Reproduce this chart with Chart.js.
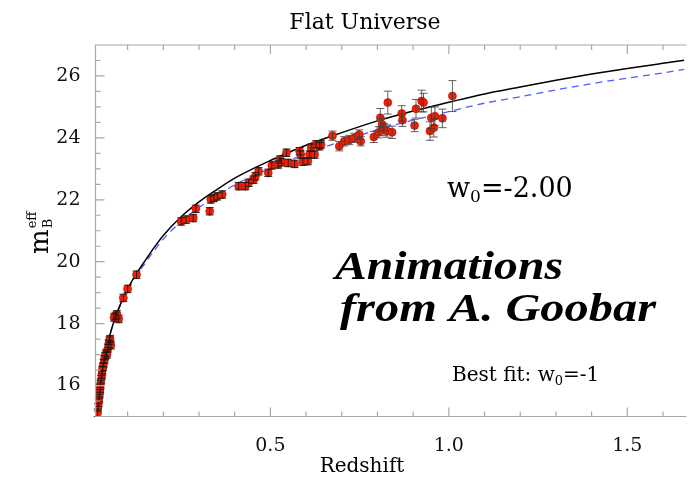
<!DOCTYPE html>
<html>
<head>
<meta charset="utf-8">
<script src="https://cdn.jsdelivr.net/npm/chart.js@4.4.1/dist/chart.umd.min.js"></script>
<style>
  html, body { margin: 0; padding: 0; background: #fff; }
  #wrap { width: 689px; height: 478px; }
</style>
</head>
<body>
<div id="wrap"><canvas id="chart" width="689" height="478"></canvas></div>
<script>
// supernovae
const sneZ = [
  0.016, 0.017, 0.019, 0.020, 0.022, 0.023, 0.024, 0.026, 0.028, 0.029,
  0.031, 0.033, 0.035, 0.037, 0.040, 0.042, 0.045, 0.047, 0.049, 0.051,
  0.053, 0.062, 0.066, 0.070, 0.075, 0.088, 0.100, 0.125,
  0.250, 0.264, 0.284, 0.291, 0.330, 0.333, 0.342, 0.351, 0.365, 0.411,
  0.430, 0.439, 0.453, 0.458, 0.467, 0.494, 0.504, 0.522, 0.527, 0.531,
  0.545, 0.550, 0.568, 0.582, 0.585, 0.591, 0.605, 0.610, 0.614, 0.624,
  0.628, 0.638, 0.642,
  0.674, 0.693, 0.707, 0.721, 0.735, 0.749, 0.753, 0.790, 0.804, 0.808,
  0.813, 0.818, 0.827, 0.829, 0.841, 0.868, 0.870, 0.904, 0.908, 0.924,
  0.929, 0.947, 0.951, 0.958, 0.961, 0.982, 1.010
];
const sneMag = [
  15.12, 15.30, 15.45, 15.60, 15.75, 15.90, 16.05, 16.20, 16.35, 16.50,
  16.60, 16.72, 16.85, 16.95, 17.05, 17.00, 17.20, 17.35, 17.45, 17.50,
  17.30, 18.20, 18.25, 18.30, 18.15, 18.83, 19.12, 19.58,
  21.30, 21.36, 21.41, 21.71, 21.63, 22.01, 22.06, 22.11, 22.17, 22.44,
  22.44, 22.55, 22.65, 22.76, 22.92, 22.87, 23.11, 23.14, 23.30, 23.21,
  23.52, 23.19, 23.16, 23.57, 23.46, 23.23, 23.25, 23.46, 23.68, 23.46,
  23.79, 23.73, 23.79,
  24.07, 23.73, 23.89, 23.93, 24.00, 24.11, 23.89, 24.03, 24.18, 24.65,
  24.43, 24.27, 24.22, 25.14, 24.18, 24.79, 24.57, 24.40, 24.94, 25.19,
  25.14, 24.22, 24.65, 24.33, 24.70, 24.63, 25.35
];
const sneErr = [
  0.12, 0.12, 0.12, 0.12, 0.12, 0.12, 0.12, 0.12, 0.12, 0.12,
  0.12, 0.12, 0.12, 0.12, 0.12, 0.12, 0.12, 0.12, 0.12, 0.12,
  0.12, 0.12, 0.12, 0.12, 0.12, 0.12, 0.12, 0.12,
  0.12, 0.12, 0.12, 0.12, 0.12, 0.12, 0.12, 0.12, 0.12, 0.12,
  0.12, 0.12, 0.12, 0.12, 0.12, 0.12, 0.12, 0.12, 0.12, 0.12,
  0.12, 0.12, 0.12, 0.12, 0.12, 0.12, 0.12, 0.12, 0.12, 0.12,
  0.12, 0.12, 0.12,
  0.15, 0.15, 0.15, 0.15, 0.15, 0.15, 0.15, 0.18, 0.18, 0.30,
  0.20, 0.20, 0.20, 0.37, 0.20, 0.25, 0.20, 0.20, 0.30, 0.35,
  0.30, 0.30, 0.35, 0.30, 0.30, 0.30, 0.50
];

// model curves
const modelZ = [
  0.012, 0.016, 0.020, 0.025, 0.030, 0.040, 0.050, 0.060, 0.070, 0.080,
  0.100, 0.125, 0.150, 0.175, 0.200, 0.250, 0.300, 0.350, 0.400, 0.500, 0.600,
  0.700, 0.800, 0.900, 1.000, 1.100, 1.200, 1.300, 1.400, 1.500, 1.600, 1.660
];
const bestFitMag = [
  14.60, 15.15, 15.65, 16.13, 16.52, 17.14, 17.62, 18.01, 18.34, 18.63,
  19.12, 19.62, 20.05, 20.47, 20.85, 21.45, 21.93, 22.33, 22.70, 23.27, 23.76,
  24.17, 24.55, 24.87, 25.15, 25.42, 25.64, 25.86, 26.06, 26.24, 26.41, 26.51
];
const w2Mag = [
  14.60, 15.15, 15.65, 16.13, 16.51, 17.13, 17.61, 17.99, 18.31, 18.60,
  19.08, 19.56, 19.97, 20.37, 20.73, 21.30, 21.75, 22.13, 22.48, 23.02, 23.49,
  23.89, 24.26, 24.57, 24.85, 25.12, 25.33, 25.55, 25.75, 25.93, 26.10, 26.21
];

// axes
const xTickValues = [0.1, 0.2, 0.3, 0.4, 0.5, 0.6, 0.7, 0.8, 0.9, 1.0, 1.1, 1.2, 1.3, 1.4, 1.5, 1.6];
const xTickLabels = { '0.5': '0.5', '1.0': '1.0', '1.5': '1.5' };
const yTickValues = [15.5, 16, 16.5, 17, 17.5, 18, 18.5, 19, 19.5, 20, 20.5, 21, 21.5, 22, 22.5,
  23, 23.5, 24, 24.5, 25, 25.5, 26, 26.5];
const yTickLabels = { '16': '16', '18': '18', '20': '20', '22': '22', '24': '24', '26': '26' };

const serif = '"DejaVu Serif", serif';
const bannerFont = 'italic bold 40px "Liberation Serif", "Times New Roman", Times, serif';
const tickFont = { family: '"DejaVu Serif", serif', size: 19 };

function drawParts(ctx, parts, x, y) {
  let cx = x;
  parts.forEach(p => {
    ctx.font = p.size + 'px ' + serif;
    ctx.fillText(p.t, cx, y + (p.dy || 0));
    cx += ctx.measureText(p.t).width;
  });
}

function drawStretched(ctx, text, x, y, width) {
  ctx.font = bannerFont;
  const w = ctx.measureText(text).width;
  ctx.save();
  ctx.translate(x, y);
  ctx.scale(width / w, 1);
  ctx.fillText(text, 0, 0);
  ctx.restore();
}

const frame = {
  id: 'frame',
  afterDraw(chart) {
    const ctx = chart.ctx;
    const a = chart.chartArea;
    const xs = chart.scales.x, ys = chart.scales.y;
    ctx.save();
    ctx.strokeStyle = '#a8a8a8';
    ctx.lineWidth = 1.2;
    ctx.beginPath();
    ctx.moveTo(a.right + 2, a.top); ctx.lineTo(a.left, a.top);
    ctx.lineTo(a.left, a.bottom); ctx.lineTo(a.right + 2, a.bottom);
    ctx.stroke();
    ctx.beginPath();
    xTickValues.forEach(v => {
      const px = xs.getPixelForValue(v);
      const len = xTickLabels[v.toFixed(1)] ? 9 : 5;
      ctx.moveTo(px, a.bottom); ctx.lineTo(px, a.bottom - len);
      ctx.moveTo(px, a.top); ctx.lineTo(px, a.top + len);
    });
    yTickValues.forEach(v => {
      const py = ys.getPixelForValue(v);
      const len = yTickLabels[String(v)] ? 9 : 5;
      ctx.moveTo(a.left, py); ctx.lineTo(a.left + len, py);
    });
    ctx.stroke();
    ctx.restore();
  }
};

const errorBars = {
  id: 'errorBars',
  afterDatasetsDraw(chart) {
    const ctx = chart.ctx;
    const xs = chart.scales.x, ys = chart.scales.y;
    ctx.save();
    ctx.lineWidth = 1;
    sneZ.forEach((z, i) => {
      const px = xs.getPixelForValue(z);
      const lo = ys.getPixelForValue(sneMag[i] - sneErr[i]);
      const hi = ys.getPixelForValue(sneMag[i] + sneErr[i]);
      ctx.strokeStyle = sneErr[i] > 0.14 ? 'rgba(60,60,60,0.8)' : 'rgba(20,20,20,0.85)';
      ctx.beginPath();
      ctx.moveTo(px, lo); ctx.lineTo(px, hi);
      ctx.moveTo(px - 4, lo); ctx.lineTo(px + 4, lo);
      ctx.moveTo(px - 4, hi); ctx.lineTo(px + 4, hi);
      ctx.stroke();
    });
    ctx.restore();
  }
};

const labels = {
  id: 'labels',
  afterDraw(chart) {
    const ctx = chart.ctx;
    ctx.save();
    ctx.fillStyle = '#000';
    ctx.textBaseline = 'alphabetic';

    ctx.textAlign = 'center';
    ctx.font = '22px ' + serif;
    ctx.fillText('Flat Universe', 365, 29);
    ctx.font = '20px ' + serif;
    ctx.fillText('Redshift', 362, 472);

    ctx.textAlign = 'left';
    drawParts(ctx, [{ t: 'w', size: 27 }, { t: '0', size: 17, dy: 5 }, { t: '=-2.00', size: 27 }], 447, 197);
    drawParts(ctx, [{ t: 'Best fit: w', size: 20 }, { t: '0', size: 13, dy: 4 }, { t: '=-1', size: 20 }], 452, 381);

    drawStretched(ctx, 'Animations', 335, 279, 228);
    drawStretched(ctx, 'from A. Goobar', 340, 321, 316);

    // rotated y title: m_B^eff
    ctx.translate(48, 254);
    ctx.rotate(-Math.PI / 2);
    ctx.font = '26px ' + serif;
    ctx.fillText('m', 0, 0);
    const mw = ctx.measureText('m').width;
    ctx.font = '13px ' + serif;
    ctx.fillText('B', mw + 1, 4);
    ctx.fillText('eff', mw + 1, -12);
    ctx.restore();
  }
};

new Chart(document.getElementById('chart'), {
  type: 'scatter',
  data: {
    datasets: [
      {
        label: 'SNe Ia',
        data: sneZ.map((z, i) => ({ x: z, y: sneMag[i] })),
        pointRadius: 4,
        pointBackgroundColor: '#ee2208',
        pointBorderColor: '#a81000',
        pointBorderWidth: 0.6
      },
      {
        label: 'Best fit: w0=-1',
        data: modelZ.map((z, i) => ({ x: z, y: bestFitMag[i] })),
        showLine: true,
        borderColor: '#000',
        borderWidth: 1.5,
        pointRadius: 0,
        cubicInterpolationMode: 'monotone'
      },
      {
        label: 'w0=-2.00',
        data: modelZ.map((z, i) => ({ x: z, y: w2Mag[i] })),
        showLine: true,
        borderColor: '#4b5dff',
        borderWidth: 1.3,
        borderDash: [7, 5],
        pointRadius: 0,
        cubicInterpolationMode: 'monotone'
      }
    ]
  },
  options: {
    responsive: false,
    animation: false,
    events: [],
    layout: { padding: { top: 45, right: 0, bottom: 0, left: 0 } },
    plugins: { legend: { display: false }, tooltip: { enabled: false }, title: { display: false } },
    scales: {
      x: {
        type: 'linear',
        min: 0.01,
        max: 1.66,
        afterBuildTicks: s => { s.ticks = xTickValues.map(v => ({ value: v })); },
        afterFit: s => { s.height = 61.5; },
        grid: { display: false },
        border: { display: false },
        ticks: {
          autoSkip: false,
          maxRotation: 0,
          padding: 10,
          color: '#111',
          font: tickFont,
          callback: v => xTickLabels[Number(v).toFixed(1)] || ''
        }
      },
      y: {
        type: 'linear',
        min: 15,
        max: 27,
        afterBuildTicks: s => { s.ticks = yTickValues.map(v => ({ value: v })); },
        afterFit: s => { s.width = 95.5; },
        grid: { display: false },
        border: { display: false },
        ticks: {
          autoSkip: false,
          padding: 7,
          color: '#111',
          font: tickFont,
          callback: v => yTickLabels[String(v)] || ''
        }
      }
    }
  },
  plugins: [frame, errorBars, labels]
});
</script>
</body>
</html>
